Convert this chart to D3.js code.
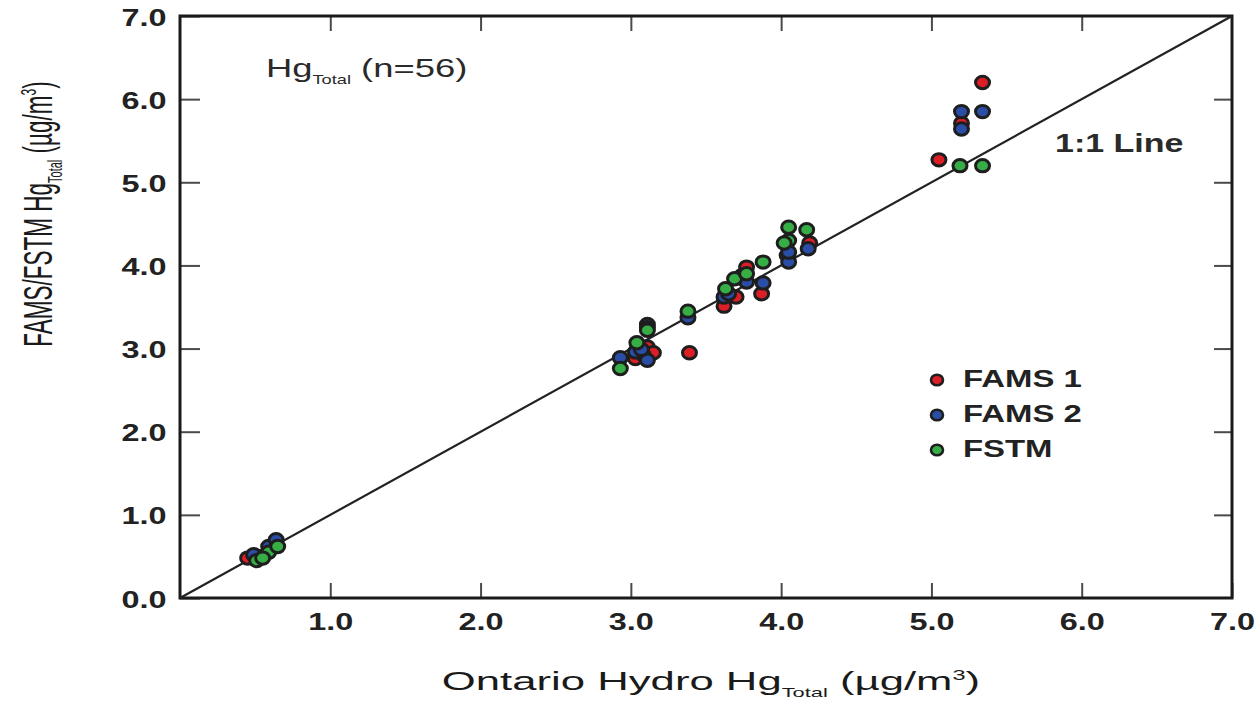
<!DOCTYPE html>
<html>
<head>
<meta charset="utf-8">
<script src="https://cdn.jsdelivr.net/npm/d3@7"></script>
<style>
  html, body { margin: 0; padding: 0; background: #fff; }
  svg { display: block; font-family: "Liberation Sans", Arial, Helvetica, sans-serif; }
</style>
</head>
<body>
<svg id="chart" width="1258" height="701"></svg>
<script>
// Ontario Hydro reference method vs. FAMS/FSTM total mercury (µg/m³)
const fams1X = [0.45, 0.60, 3.03, 3.11, 3.15, 3.39, 3.62, 3.70, 3.87, 3.77, 4.19, 5.05, 5.20, 5.34, 3.74, 4.04, 0.52, 3.08];
const fams1Y = [0.48, 0.60, 2.88, 3.02, 2.95, 2.95, 3.51, 3.62, 3.66, 3.98, 4.27, 5.27, 5.71, 6.20, 3.88, 4.12, 0.50, 2.93];

const fams2X = [0.49, 0.59, 0.64, 2.93, 3.03, 3.11, 3.11, 3.38, 3.62, 3.77, 3.88, 4.05, 4.05, 4.18, 5.20, 5.20, 5.34, 3.07, 3.65];
const fams2Y = [0.52, 0.62, 0.70, 2.89, 2.96, 2.86, 3.29, 3.37, 3.62, 3.80, 3.79, 4.04, 4.16, 4.20, 5.64, 5.85, 5.85, 2.99, 3.66];

const fstmX = [0.51, 0.59, 0.65, 2.93, 3.04, 3.11, 3.38, 3.63, 3.69, 3.77, 3.88, 4.05, 4.05, 4.17, 5.19, 5.34, 3.11, 4.02, 0.55];
const fstmY = [0.45, 0.55, 0.62, 2.76, 3.07, 3.25, 3.45, 3.72, 3.84, 3.90, 4.04, 4.30, 4.46, 4.43, 5.20, 5.20, 3.22, 4.27, 0.48];

const seriesNames = ["FAMS 1", "FAMS 2", "FSTM"];
const seriesColors = ["#dc1f26", "#2a4ea6", "#37ad45"];
const xTickValues = [1, 2, 3, 4, 5, 6, 7];
const yTickValues = [0, 1, 2, 3, 4, 5, 6, 7];
const axisDomain = [0, 7];

const series = [
  { name: seriesNames[0], color: seriesColors[0], xs: fams1X, ys: fams1Y },
  { name: seriesNames[1], color: seriesColors[1], xs: fams2X, ys: fams2Y },
  { name: seriesNames[2], color: seriesColors[2], xs: fstmX, ys: fstmY }
];

const svg = d3.select("#chart");
const plotLeft = 180, plotRight = 1232, plotTop = 16, plotBottom = 598;

const x = d3.scaleLinear().domain(axisDomain).range([plotLeft, plotRight]);
const y = d3.scaleLinear().domain(axisDomain).range([plotBottom, plotTop]);

const fmt = d3.format(".1f");
const tickColor = "#4a4a4a";
const textColor = "#222";

// bottom axis with inward ticks and labels
const gx = svg.append("g").attr("transform", `translate(0,${plotBottom})`)
  .call(d3.axisBottom(x).tickValues(xTickValues).tickFormat(fmt).tickSizeInner(-15).tickSizeOuter(0).tickPadding(15));
// left axis
const gy = svg.append("g").attr("transform", `translate(${plotLeft},0)`)
  .call(d3.axisLeft(y).tickValues(yTickValues).tickFormat(fmt).tickSizeInner(-20).tickSizeOuter(0).tickPadding(10));
// top and right frame ticks (no labels)
const gt = svg.append("g").attr("transform", `translate(0,${plotTop})`)
  .call(d3.axisTop(x).tickValues([1, 2, 3, 4, 5, 6]).tickFormat("").tickSizeInner(-15).tickSizeOuter(0));
const gr = svg.append("g").attr("transform", `translate(${plotRight},0)`)
  .call(d3.axisRight(y).tickValues([1, 2, 3, 4, 5, 6]).tickFormat("").tickSizeInner(-18).tickSizeOuter(0));

[gx, gy, gt, gr].forEach(g => {
  g.select(".domain").remove();
  g.selectAll(".tick line").attr("stroke", tickColor).attr("stroke-width", 2);
});
[gx, gy].forEach(g => {
  g.selectAll(".tick text")
    .attr("fill", textColor)
    .attr("font-size", 24)
    .attr("font-weight", "bold")
    .attr("font-family", "'Liberation Sans', Arial, sans-serif")
    .attr("transform", "scale(1.35,1)");
});
gy.selectAll(".tick text").attr("dy", "0.38em");

// plot frame
svg.append("rect")
  .attr("x", plotLeft).attr("y", plotTop)
  .attr("width", plotRight - plotLeft).attr("height", plotBottom - plotTop)
  .attr("fill", "none").attr("stroke", "#1a1a1a").attr("stroke-width", 3);

// 1:1 reference line
svg.append("line")
  .attr("x1", x(axisDomain[0])).attr("y1", y(axisDomain[0]))
  .attr("x2", x(axisDomain[1])).attr("y2", y(axisDomain[1]))
  .attr("stroke", "#222").attr("stroke-width", 2.2);

// data points (slightly wide markers)
series.forEach(s => {
  svg.append("g").selectAll("ellipse")
    .data(d3.range(s.xs.length))
    .join("ellipse")
    .attr("cx", i => x(s.xs[i]))
    .attr("cy", i => y(s.ys[i]))
    .attr("rx", 7)
    .attr("ry", 6.2)
    .attr("fill", s.color)
    .attr("stroke", "#1e1e1e")
    .attr("stroke-width", 3);
});

// annotation text, horizontally widened
function scaledText(tx, ty, sx, opts) {
  const g = svg.append("g").attr("transform", `translate(${tx},${ty}) scale(${sx},1)${opts.rotate ? " rotate(" + opts.rotate + ")" : ""}`);
  return g.append("text")
    .attr("text-anchor", opts.anchor || "start")
    .attr("font-size", opts.size)
    .attr("font-weight", opts.weight || "normal")
    .attr("fill", opts.fill || textColor);
}

function hgTotal(t, size) {
  const sub = Math.round(size * 0.5);
  t.append("tspan").text("Hg");
  t.append("tspan").attr("font-size", sub).attr("dy", size * 0.25).text("Total");
  t.append("tspan").attr("dy", -size * 0.25).text("\u00a0");
}

function unitsTail(t, size) {
  const sup = Math.round(size * 0.55);
  t.append("tspan").text("(\u00b5g/m");
  t.append("tspan").attr("font-size", sup).attr("dy", -size * 0.4).text("3");
  t.append("tspan").attr("dy", size * 0.4).text(")");
}

// panel label
{
  const t = scaledText(266, 77, 1.4, { size: 26, fill: "#2a2a2a" });
  hgTotal(t, 26);
  t.append("tspan").text("(n=56)");
}

// 1:1 line label
scaledText(1055, 152, 1.36, { size: 25, weight: "bold", fill: "#2a2a2a" }).text("1:1 Line");

// x axis title
{
  const t = scaledText(711, 690, 1.68, { size: 26, anchor: "middle", fill: "#1a1a1a" });
  t.append("tspan").text("Ontario Hydro ");
  hgTotal(t, 26);
  unitsTail(t, 26);
}

// y axis title
{
  const t = scaledText(52, 214, 1.8, { size: 22.5, anchor: "middle", rotate: -90, fill: "#1a1a1a" });
  t.append("tspan").text("FAMS/FSTM ");
  hgTotal(t, 22.5);
  unitsTail(t, 22.5);
}

// legend
const legendY = [380, 415, 450];
series.forEach((s, i) => {
  svg.append("ellipse")
    .attr("cx", 937).attr("cy", legendY[i])
    .attr("rx", 6).attr("ry", 5.2)
    .attr("fill", s.color)
    .attr("stroke", "#1e1e1e").attr("stroke-width", 2.6);
  scaledText(963, legendY[i] + 7, 1.4, { size: 23.5, weight: "bold" }).text(s.name);
});
</script>
</body>
</html>
